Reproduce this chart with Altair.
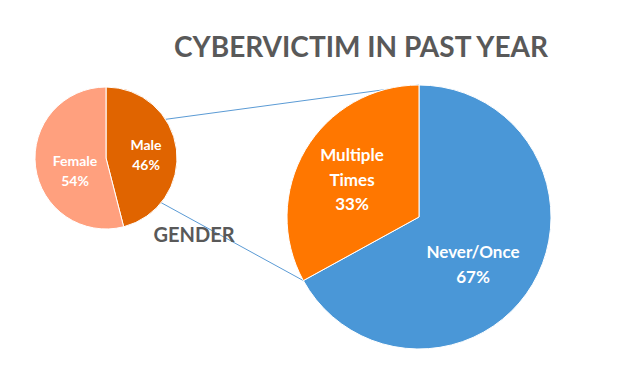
import math
import altair as alt
import pandas as pd

# ---------------- data ----------------
victim_cats = ["Never/Once", "Multiple Times"]
victim_vals = [67, 33]
victim_colors = ["#4A97D7", "#FF7700"]
victim_label_lines = [["Never/Once", "67%"], ["Multiple", "Times", "33%"]]

gender_cats = ["Male", "Female"]
gender_vals = [46, 54]
gender_colors = ["#E06400", "#FFA07E"]
gender_label_lines = [["Male", "46%"], ["Female", "54%"]]

title_text = "CYBERVICTIM IN PAST YEAR"
sub_text = "GENDER"

# ---------------- layout (page pixels) ----------------
W, H = 624, 357
OFF = 8
BIG_C, BIG_R = (419, 217), 132
SMALL_C, SMALL_R = (106, 158), 71
SMALL_CONN_ANGLES = [57, 129]          # where connectors leave small pie (deg, clockwise from top)
VICTIM_LABEL_POS = [(473, 253), (352, 156)]   # first-line positions
GENDER_LABEL_POS = [(146, 146), (75, 162)]
TITLE_POS = (361, 49)
SUB_POS = (194, 236)
FONT = "Lato"
TEXT_GREY = "#595959"

def P(x, y):
    return x - OFF, y - OFF

xs = alt.Scale(domain=[0, W], nice=False, zero=False)
ys = alt.Scale(domain=[0, H], nice=False, zero=False, reverse=True)

# pies
df_big = pd.DataFrame({"cat": victim_cats, "val": victim_vals,
                       "col": victim_colors, "ord": range(len(victim_cats))})
df_small = pd.DataFrame({"cat": gender_cats, "val": gender_vals,
                         "col": gender_colors, "ord": range(len(gender_cats))})

def pie(df, c, r):
    cx, cy = P(*c)
    return alt.Chart(df).mark_arc(radius=r, stroke="#ffffff", strokeWidth=1).encode(
        theta=alt.Theta("val:Q", stack=True, scale=alt.Scale(domain=[0, 100])),
        color=alt.Color("col:N", scale=None),
        order=alt.Order("ord:Q"),
        x=alt.value(cx), y=alt.value(cy),
    )

big_pie = pie(df_big, BIG_C, BIG_R)
small_pie = pie(df_small, SMALL_C, SMALL_R)

# connector lines (derived from pie geometry)
def on_circle(c, r, deg):
    a = math.radians(deg)
    return P(c[0] + r * math.sin(a), c[1] - r * math.cos(a))

split_deg = victim_vals[0] / sum(victim_vals) * 360
conn_rows = []
for s_deg, b_deg in zip(SMALL_CONN_ANGLES, [0, split_deg]):
    x1, y1 = on_circle(SMALL_C, SMALL_R, s_deg)
    x2, y2 = on_circle(BIG_C, BIG_R, b_deg)
    conn_rows.append({"x": x1, "y": y1, "x2": x2, "y2": y2})
conn = alt.Chart(pd.DataFrame(conn_rows)).mark_rule(color="#5B9BD5", strokeWidth=1).encode(
    x=alt.X("x:Q", scale=xs, axis=None), y=alt.Y("y:Q", scale=ys, axis=None),
    x2="x2:Q", y2="y2:Q")

# slice labels
def label_layer(lines_list, positions, size, line_h):
    rows = []
    for lines, pos in zip(lines_list, positions):
        x, y = P(*pos)
        rows.append({"t": "\n".join(lines), "x": x, "y": y})
    return alt.Chart(pd.DataFrame(rows)).mark_text(
        font=FONT, fontWeight="bold", color="white", lineBreak="\n", baseline="middle",
        align="center", fontSize=size, lineHeight=line_h).encode(
        x=alt.X("x:Q", scale=xs, axis=None), y=alt.Y("y:Q", scale=ys, axis=None),
        text="t:N")

big_labels = label_layer(victim_label_lines, VICTIM_LABEL_POS, 17, 24.5)
small_labels = label_layer(gender_label_lines, GENDER_LABEL_POS, 14, 19.5)

# titles
tx, ty = P(*TITLE_POS)
sx, sy = P(*SUB_POS)
titles = alt.Chart(pd.DataFrame([
    {"t": title_text, "x": tx, "y": ty, "s": 28},
    {"t": sub_text, "x": sx, "y": sy, "s": 20},
])).mark_text(font=FONT, fontWeight="bold", color=TEXT_GREY, baseline="middle",
              align="center").encode(
    x=alt.X("x:Q", scale=xs, axis=None), y=alt.Y("y:Q", scale=ys, axis=None),
    text="t:N", size=alt.Size("s:Q", scale=None))

chart = alt.layer(conn, small_pie, big_pie, big_labels, small_labels, titles).resolve_scale(
    theta="independent").properties(
    width=W, height=H, padding=0, autosize=alt.AutoSizeParams(type="none")
).configure_view(stroke=None)

chart.save("out.html", embed_options={"renderer": "svg", "actions": False})
